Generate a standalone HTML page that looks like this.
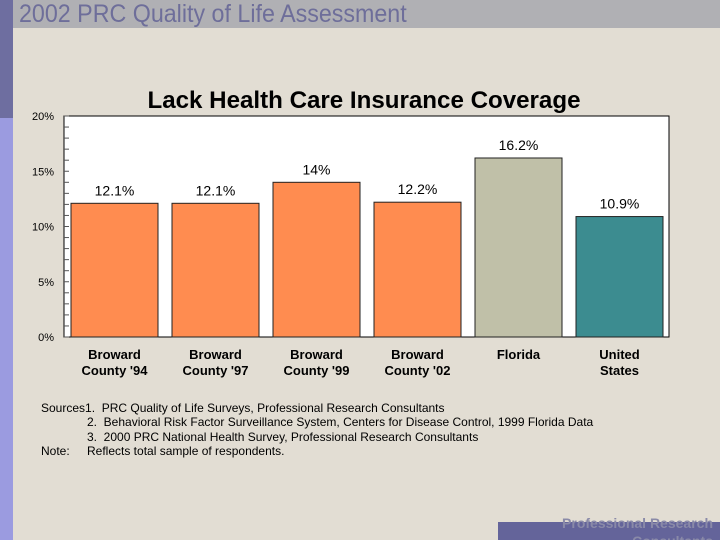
<!DOCTYPE html>
<html><head><meta charset="utf-8"><style>
html,body{margin:0;padding:0;width:720px;height:540px;overflow:hidden;}
body{position:relative;background:#e2ddd3;font-family:"Liberation Sans",sans-serif;}
.src{position:absolute;font-size:12px;color:#000;white-space:nowrap;}
</style></head><body>
<div style="position:absolute;left:0;top:0;width:13px;height:118px;background:#6e6ea0"></div>
<div style="position:absolute;left:0;top:118px;width:13px;height:422px;background:#9b9be0"></div>
<div style="position:absolute;left:13px;top:0;width:707px;height:28px;background:#b0b0b4"></div>
<div style="position:absolute;left:19px;top:0px;font-size:25px;color:#6e6e9a;transform:scaleX(0.93);transform-origin:0 0;white-space:nowrap">2002 PRC Quality of Life Assessment</div>
<svg id="chart" width="720" height="540" style="position:absolute;left:0;top:0" xmlns="http://www.w3.org/2000/svg">
<text x="364" y="108" text-anchor="middle" font-family="Liberation Sans, sans-serif" font-weight="bold" font-size="24" textLength="433" lengthAdjust="spacingAndGlyphs" fill="#000">Lack Health Care Insurance Coverage</text>
<rect x="64" y="116" width="605" height="221" fill="#fff" stroke="#000" stroke-width="1"/>
<g id="ticks"></g><g id="bars"></g>
</svg>
<div class="src" style="left:41px;top:401px">Sources1.&nbsp; PRC Quality of Life Surveys, Professional Research Consultants</div>
<div class="src" style="left:87px;top:415px">2.&nbsp; Behavioral Risk Factor Surveillance System, Centers for Disease Control, 1999 Florida Data</div>
<div class="src" style="left:87px;top:430px">3.&nbsp; 2000 PRC National Health Survey, Professional Research Consultants</div>
<div class="src" style="left:41px;top:444px">Note:</div>
<div class="src" style="left:87px;top:444px">Reflects total sample of respondents.</div>
<div style="position:absolute;left:498px;top:522px;width:222px;height:18px;background:#64649a"></div>
<div style="position:absolute;left:500px;top:514px;width:213px;text-align:right;font-size:14px;font-weight:bold;color:#8a8aa8;line-height:18px;white-space:nowrap">Professional Research<br>Consultants</div>
<script>
const categories=[["Broward","County '94"],["Broward","County '97"],["Broward","County '99"],["Broward","County '02"],["Florida"],["United","States"]];
const values=[12.1,12.1,14,12.2,16.2,10.9];
const valueLabels=["12.1%","12.1%","14%","12.2%","16.2%","10.9%"];
const barColors=["#ff8c50","#ff8c50","#ff8c50","#ff8c50","#c0c0a8","#3c8c90"];
const yTicks=[0,5,10,15,20];
const yTickLabels=["0%","5%","10%","15%","20%"];
const NS="http://www.w3.org/2000/svg";
const y0=337,y1=116,yMax=20;
function y(v){return y0-(v/yMax)*(y0-y1);}
function x(i){return 71+i*101;}
const bw=87;
const tg=document.getElementById('ticks'),bg=document.getElementById('bars');
function mk(t,a,p){const e=document.createElementNS(NS,t);for(const k in a)e.setAttribute(k,a[k]);p.appendChild(e);return e;}
for(let v=0;v<=yMax;v++){
  const l=mk('line',{x1:64,x2:69,y1:y(v),y2:y(v),stroke:'#555','stroke-width':1},tg);
  
  
}
yTicks.forEach((v,i)=>{
  const t=mk('text',{x:54,y:y(v)+4,'text-anchor':'end','font-size':11,'font-family':'Liberation Sans, sans-serif',fill:'#000'},tg);
  t.textContent=yTickLabels[i];
  
  
});
values.forEach((v,i)=>{
  const r=mk('rect',{x:x(i),y:y(v),width:bw,height:y0-y(v),fill:barColors[i],stroke:'#222','stroke-width':1},bg);
  
  
  const t=mk('text',{x:x(i)+bw/2,y:y(v)-8,'text-anchor':'middle','font-size':14,'font-family':'Liberation Sans, sans-serif',fill:'#000'},bg);
  t.textContent=valueLabels[i];
  
  
  categories[i].forEach((s,j)=>{
    const c=mk('text',{x:x(i)+bw/2,y:359+j*16,'text-anchor':'middle','font-size':13,'font-weight':'bold','font-family':'Liberation Sans, sans-serif',fill:'#000'},bg);
    c.textContent=s;
    
    
  });
});
</script>
</body></html>
